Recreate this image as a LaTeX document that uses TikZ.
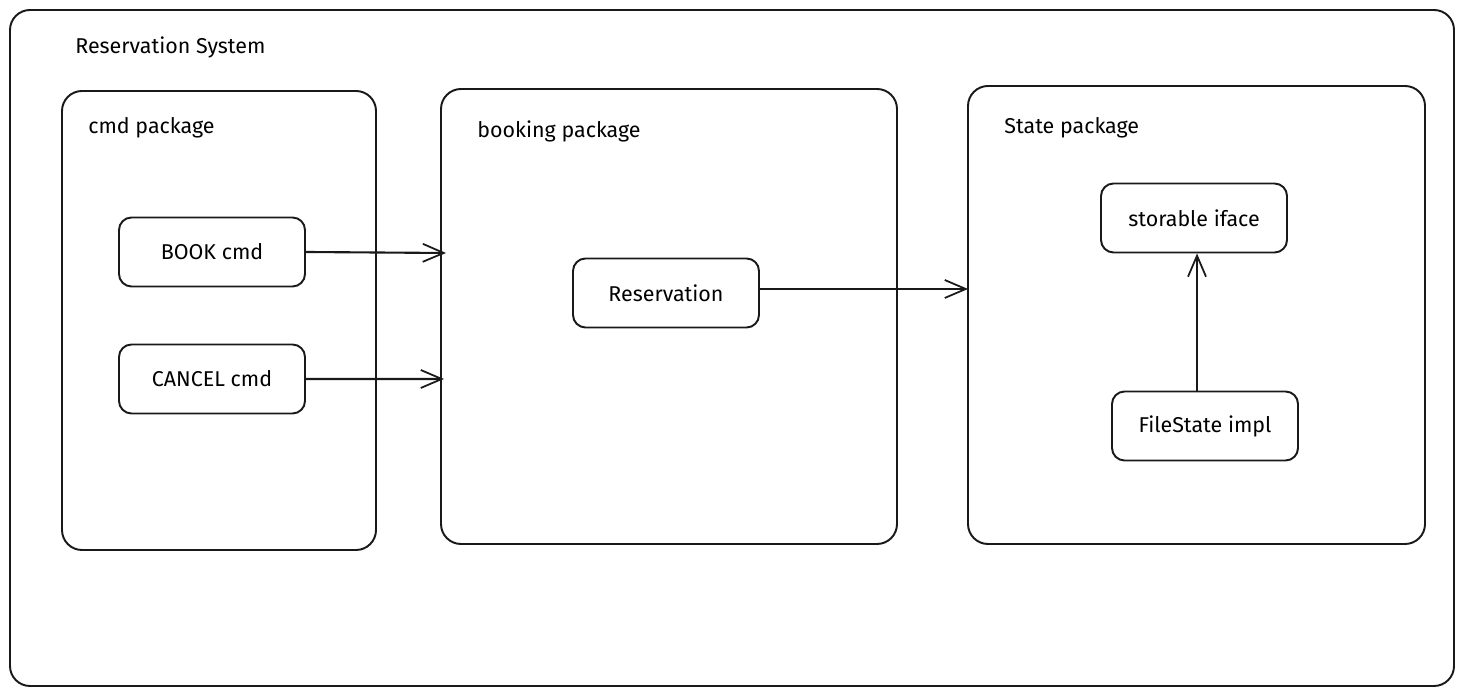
\documentclass[tikz,border=0pt]{standalone}
\usepackage{fontspec}
\setmainfont{Fira Sans}
\usepackage{tikz}
\usetikzlibrary{arrows.meta,positioning}
\tikzstyle{pkg}=[draw=black!90,line width=1.1pt,rounded corners=0.4cm]
\tikzstyle{unit}=[draw=black!90,line width=1.1pt,rounded corners=0.25cm,minimum width=3.72cm,minimum height=1.38cm,text centered]
\tikzstyle{title}=[anchor=west,inner sep=0pt]
\tikzstyle{post}=[->,line width=1.2pt,draw=black!90]

\begin{document}
\begin{tikzpicture}[
        >={Straight Barb[length=0.42cm,width=0.36cm,line width=1pt]},
        font=\fontsize{12.2}{14}\selectfont
        ]
        \useasboundingbox (0,0) rectangle (29.28,13.92);
        % packages
        \draw[pkg] (0.2,0.2) rectangle (29.08,13.72);
        \node[title](sysname) at (1.5,12.98) {Reservation System};
        \draw[pkg] (1.24,2.92) rectangle (7.52,12.1);
        \node[title](cmdname) at (1.76,11.36) {cmd package};
        \draw[pkg] (8.82,3.04) rectangle (17.94,12.14);
        \node[title](bookingname) at (9.54,11.3) {booking package};
        \draw[pkg] (19.36,3.04) rectangle (28.5,12.2);
        \node[title](statename) at (20.08,11.36) {State package};
        % units
        \node[unit](book) at (4.24,8.88) {BOOK cmd};
        \node[unit, below of=book, yshift=-1.54cm](cancel) {CANCEL cmd};
        \node[unit](res) at (13.32,8.06) {Reservation};
        \node[unit](store) at (23.88,9.56) {storable iface};
        \node[unit](file) at (24.1,5.4) {FileState impl};
        \coordinate (bookin) at (8.92,8.86);
        \coordinate (cancelin) at (8.88,6.34);
        \coordinate (statein) at (19.36,8.14);
        \path
        (book.east) edge[post] (bookin)
        (cancel.east) edge[post] (cancelin)
        ([yshift=0.08cm]res.east) edge[post] (statein)
        ([xshift=-0.16cm]file.north) edge[post] ([xshift=-0.16cm]file.north |- store.south)
        ;
    \end{tikzpicture}
\end{document}
